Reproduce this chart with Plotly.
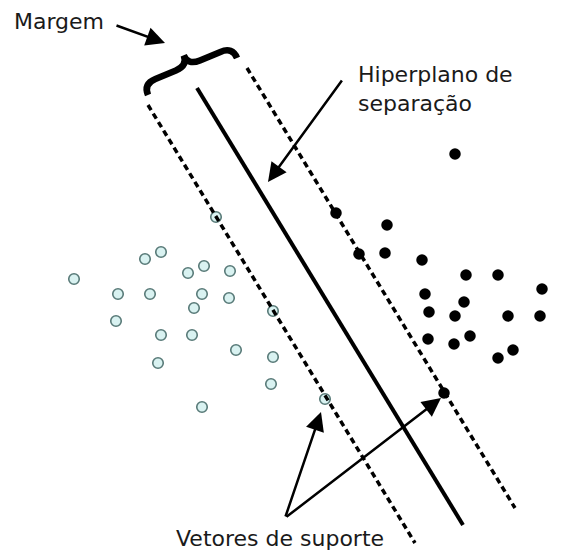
import numpy as np
import plotly.graph_objects as go

W, H = 581, 556
OFF = 8  # default page body margin of the browser

# Class A (open circles) - picture coordinates
class_a_x = [216, 74, 145, 161, 188, 204, 230, 118, 150, 202, 229, 194, 273, 116, 161, 192, 236, 273, 158, 271, 202, 325]
class_a_y = [217, 279, 259, 252, 273, 266, 271, 294, 294, 294, 298, 308, 311, 321, 335, 335, 350, 357, 363, 384, 407, 399]

# Class B (filled circles)
class_b_x = [455, 336, 387, 359, 385, 422, 466, 498, 542, 425, 464, 429, 455, 508, 540, 580, 428, 454, 470, 498, 513, 444]
class_b_y = [154, 213, 225, 254, 253, 260, 275, 275, 289, 294, 302, 312, 316, 316, 316, 330, 339, 344, 336, 358, 350, 393]

# Separating hyperplane and margin lines (endpoints)
hyper_x = [197, 463]
hyper_y = [88, 525]
margin_left_x = [148, 415]
margin_left_y = [105, 543]
margin_right_x = [247, 515]
margin_right_y = [68, 508]

# Labels
label_margin = "Margem"
label_hyper = "Hiperplano de<br>separação"
label_sv = "Vetores de suporte"

FONT = "DejaVu Sans"

fig = go.Figure()

fig.add_trace(go.Scatter(
    x=class_a_x, y=class_a_y, mode="markers",
    marker=dict(size=10.5, color="#d9f2f1", line=dict(color="#587a78", width=1.6)),
    hoverinfo="skip", showlegend=False))
fig.add_trace(go.Scatter(
    x=class_b_x, y=class_b_y, mode="markers",
    marker=dict(size=11.5, color="#000000", line=dict(width=0)),
    hoverinfo="skip", showlegend=False))

for xs, ys in [(margin_left_x, margin_left_y), (margin_right_x, margin_right_y)]:
    fig.add_trace(go.Scatter(x=xs, y=ys, mode="lines",
                             line=dict(color="black", width=3.5, dash="6px,4px"),
                             hoverinfo="skip", showlegend=False))
fig.add_trace(go.Scatter(x=hyper_x, y=hyper_y, mode="lines",
                         line=dict(color="black", width=4),
                         hoverinfo="skip", showlegend=False))

# Curly brace between the margin lines
A = np.array([148.0, 95.0])
B = np.array([237.0, 58.0])
L = np.linalg.norm(B - A)
e = (B - A) / L
n = np.array([e[1], -e[0]])
h1, h2, r = 12.0, 23.0, 13.0


def P(u, v):
    p = A + e * u + n * v
    return f"{p[0]:.1f},{p[1]:.1f}"


path = (f"M {P(0,0)} Q {P(0,h1)} {P(r,h1)} L {P(L/2-r,h1)} Q {P(L/2,h1)} {P(L/2,h2)} "
        f"Q {P(L/2,h1)} {P(L/2+r,h1)} L {P(L-r,h1)} Q {P(L,h1)} {P(L,0)}")
fig.add_shape(type="path", path=path, xref="x", yref="y",
              line=dict(color="black", width=6.5), layer="above")

# Text labels
fig.add_annotation(x=12, y=21, text=label_margin, showarrow=False, xanchor="left", yanchor="middle",
                   font=dict(family=FONT, size=22, color="#1a1a1a"))
fig.add_annotation(x=356, y=89, text=label_hyper, showarrow=False, xanchor="left", yanchor="middle",
                   align="left", font=dict(family=FONT, size=22, color="#1a1a1a"))
fig.add_annotation(x=280, y=538, text=label_sv, showarrow=False, xanchor="center", yanchor="middle",
                   font=dict(family=FONT, size=22, color="#1a1a1a"))

# Arrows
arrows = [((115, 25), (165, 43)), ((343, 79), (268, 182)),
          ((285, 518), (321, 412)), ((285, 518), (441, 398))]
for (tx, ty), (hx, hy) in arrows:
    fig.add_annotation(x=hx, y=hy, ax=tx, ay=ty, xref="x", yref="y", axref="x", ayref="y",
                       text="", showarrow=True, arrowhead=2, arrowsize=1.5, arrowwidth=2.5,
                       arrowcolor="black")

fig.update_xaxes(range=[OFF, W], visible=False, fixedrange=True)
fig.update_yaxes(range=[H, OFF], visible=False, fixedrange=True)
fig.update_layout(width=W - OFF, height=H - OFF, margin=dict(l=0, r=0, t=0, b=0),
                  plot_bgcolor="white", paper_bgcolor="white")

fig.write_html("out.html")
